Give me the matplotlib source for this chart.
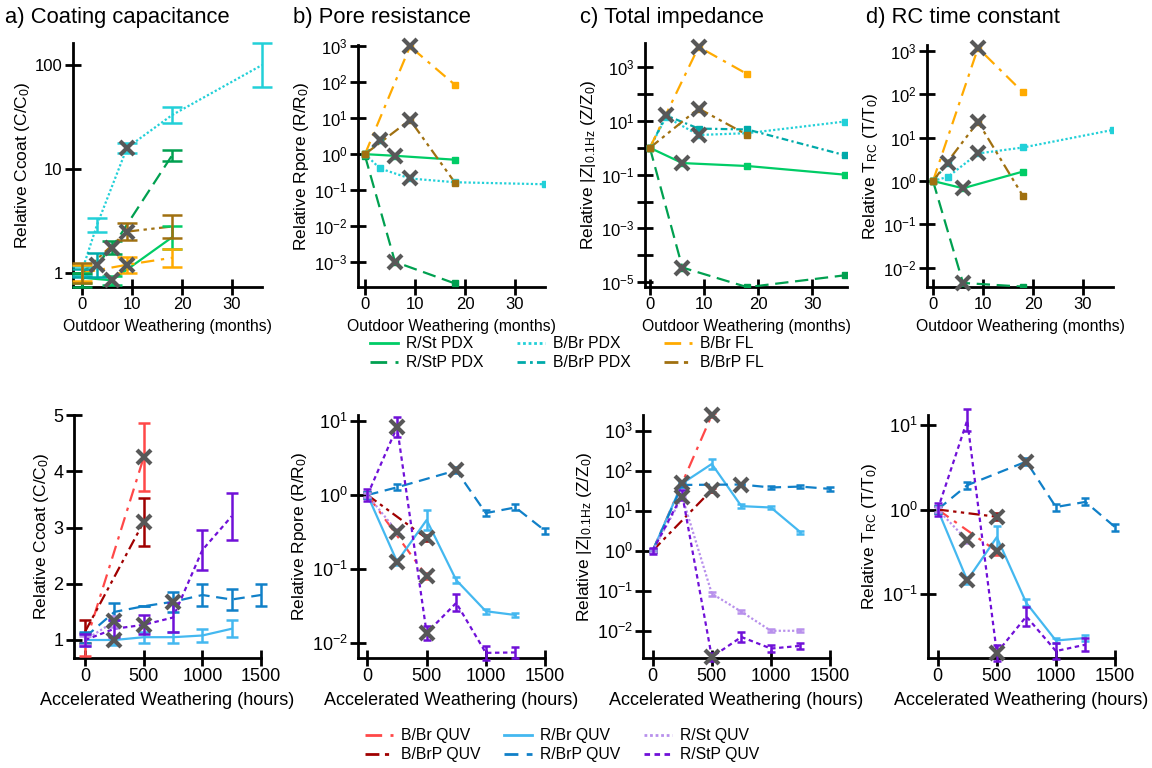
import numpy as np
import matplotlib
matplotlib.use("Agg")
import matplotlib.pyplot as plt
from matplotlib.ticker import FixedLocator, FuncFormatter, NullLocator
from matplotlib.lines import Line2D

plt.rcParams['font.family'] = ['Liberation Sans', 'DejaVu Sans']
plt.rcParams['mathtext.fontset'] = 'custom'
plt.rcParams['mathtext.rm'] = 'Liberation Sans'
plt.rcParams['mathtext.it'] = 'Liberation Sans:italic'
plt.rcParams['mathtext.default'] = 'regular'

nan = np.nan

# ---------------- dados: intemperismo externo (meses) ----------------
meses = [0, 3, 6, 9, 18, 36]
nomes_ext = ["R/St PDX", "R/StP PDX", "B/Br PDX", "B/BrP PDX", "B/Br FL", "B/BrP FL"]
cores_ext = ["#00cc66", "#00a050", "#22d0d8", "#00aaaa", "#ffaa00", "#a07010"]
tracos_ext = [None, (6, 3), (1, 1), (3, 1.5, 1, 1.5), (6, 3, 1.5, 3), (5, 2, 1.5, 2, 1.5, 2)]
marca_ext = [6, 6, 9, 3, 9, 9]  # mes marcado com X

ccoat_ext = [
    [0.9, nan, 0.85, nan, 2.2, nan],
    [0.85, nan, 1.75, nan, 13.5, nan],
    [1.05, 2.9, nan, 16, 33, 100],
    [1.0, 1.2, nan, nan, nan, nan],
    [1.0, nan, nan, 1.2, 1.4, nan],
    [1.0, nan, nan, 2.5, 2.8, nan],
]
erro_ccoat_ext = [
    [1.12, nan, 1.1, nan, 1.3, nan],
    [1.15, nan, 1.15, nan, 1.13, nan],
    [1.12, 1.17, nan, 1.12, 1.2, 1.64],
    [1.1, 1.3, nan, nan, nan, nan],
    [1.2, nan, nan, 1.2, 1.22, nan],
    [1.25, nan, nan, 1.2, 1.28, nan],
]
rpore_ext = [
    [1.0, nan, 0.9, nan, 0.7, nan],
    [0.9, nan, 0.001, nan, 0.00025, nan],
    [1.0, 0.4, nan, 0.21, 0.165, 0.145],
    [1.0, 2.5, nan, nan, nan, nan],
    [1.0, nan, nan, 1000, 85, nan],
    [1.0, nan, nan, 9, 0.16, nan],
]
z_ext = [
    [1.0, nan, 0.27, nan, 0.21, 0.1],
    [1.0, nan, 3.5e-5, nan, 6.5e-6, 1.8e-5],
    [1.0, 14, nan, 3.0, 3.5, 9.5],
    [1.0, 16, nan, 5.2, 4.8, 0.53],
    [1.0, nan, nan, 5700, 550, nan],
    [1.0, nan, nan, 29, 3.0, nan],
]
trc_ext = [
    [1.0, nan, 0.68, nan, 1.65, nan],
    [1.0, nan, 0.0045, nan, 0.0037, nan],
    [1.0, 1.25, nan, 4.3, 5.9, 15],
    [1.0, 2.6, nan, nan, nan, nan],
    [1.0, nan, nan, 1150, 110, nan],
    [1.0, nan, nan, 23, 0.45, nan],
]

# ---------------- dados: intemperismo acelerado (horas) ----------------
horas = [0, 250, 500, 750, 1000, 1250, 1500]
nomes_uv = ["B/Br QUV", "B/BrP QUV", "R/Br QUV", "R/BrP QUV", "R/St QUV", "R/StP QUV"]
cores_uv = ["#ff4848", "#a00000", "#44b8f0", "#1080c8", "#b890ec", "#7010d8"]
tracos_uv = [(6, 3, 1.5, 3), (5, 2, 1.5, 2, 1.5, 2), None, (5, 3), (1, 1), (2, 1.6)]
marca_uv = [500, 500, 250, 750, 250, 500]

ccoat_uv = [
    [0.92, nan, 4.25, nan, nan, nan, nan],
    [1.15, nan, 3.1, nan, nan, nan, nan],
    [1.0, 1.0, 1.05, 1.05, 1.08, 1.2, nan],
    [1.05, 1.5, 1.6, 1.68, 1.8, 1.72, 1.8],
    [1.0, 1.33, nan, nan, nan, nan, nan],
    [1.0, 1.2, 1.27, 1.4, 2.6, 3.2, nan],
]
erro_ccoat_uv = [
    [0.2, nan, 0.6, nan, nan, nan, nan],
    [0.2, nan, 0.42, nan, nan, nan, nan],
    [0.1, 0.08, 0.1, 0.1, 0.12, 0.15, nan],
    [0.1, 0.15, 0.0, 0.18, 0.2, 0.18, 0.2],
    [0.08, 0.1, nan, nan, nan, nan, nan],
    [0.1, 0.15, 0.17, 0.25, 0.35, 0.42, nan],
]
rpore_uv = [
    [1.0, nan, 0.08, nan, nan, nan, nan],
    [1.0, nan, 0.26, nan, nan, nan, nan],
    [1.0, 0.126, 0.46, 0.071, 0.027, 0.024, nan],
    [1.0, 1.27, nan, 2.15, 0.57, 0.68, 0.33],
    [1.0, 0.32, nan, nan, nan, nan, nan],
    [1.0, 8.3, 0.0137, 0.035, 0.0074, 0.0075, nan],
]
z_uv = [
    [1.0, nan, 2450, nan, nan, nan, nan],
    [1.0, nan, 33, nan, nan, nan, nan],
    [1.0, 48, 147, 13, 12, 2.9, nan],
    [1.0, 44, nan, 45, 38, 40, 35],
    [1.0, 22, 0.085, 0.03, 0.01, 0.01, nan],
    [1.0, 25, 0.0022, 0.007, 0.0036, 0.0042, nan],
]
trc_uv = [
    [1.0, nan, 0.32, nan, nan, nan, nan],
    [1.0, nan, 0.82, nan, nan, nan, nan],
    [1.0, 0.145, 0.47, 0.078, 0.028, 0.03, nan],
    [1.0, 1.94, nan, 3.7, 1.07, 1.23, 0.62],
    [1.0, 0.43, nan, nan, nan, nan, nan],
    [1.0, 11.4, 0.02, 0.054, 0.021, 0.025, nan],
]
erro_log_uv = [
    [1.1, nan, 1.1, nan, nan, nan, nan],
    [1.1, nan, 1.1, nan, nan, nan, nan],
    [1.1, 1.1, 1.35, 1.1, 1.08, 1.08, nan],
    [1.1, 1.1, nan, 1.1, 1.1, 1.1, 1.1],
    [1.08, 1.08, 1.12, 1.1, 1.1, 1.1, nan],
    [1.2, 1.35, 1.25, 1.3, 1.25, 1.2, nan],
]
marca_extra_rpore = {"R/StP QUV": 250}

# ---------------- figura ----------------
W, H = 1152, 768
fig = plt.figure(figsize=(W / 100, H / 100), dpi=100)
CINZA = "#585858"


def eixo_px(l, r, t, b, fs):
    ax = fig.add_axes([l / W, 1 - b / H, (r - l) / W, (b - t) / H])
    ax.spines['top'].set_visible(False)
    ax.spines['right'].set_visible(False)
    ax.spines['left'].set_linewidth(2)
    ax.spines['bottom'].set_linewidth(2)
    ax.tick_params(direction='inout', length=11, width=2, labelsize=fs, pad=2)
    ax.tick_params(which='minor', length=0)
    return ax


def eixo_log(ax, exps, rotulados=None):
    ax.set_yscale('log')
    ax.yaxis.set_major_locator(FixedLocator([10.0 ** e for e in exps]))
    ax.yaxis.set_minor_locator(NullLocator())
    rot = exps if rotulados is None else rotulados

    def fmt(v, p):
        e = int(round(np.log10(v)))
        return r'$10^{%d}$' % e if e in rot else ''
    ax.yaxis.set_major_formatter(FuncFormatter(fmt))


def serie(ax, x, y, cor, traco, erro=None, log=True, capsize=3, marcador='s', ms=3.5):
    x = np.array(x, float)
    y = np.array(y, float)
    ok = ~np.isnan(y)
    ls = '-' if traco is None else (0, traco)
    ax.plot(x[ok], y[ok], color=cor, lw=1.6, linestyle=ls, zorder=3)
    if erro is not None:
        e = np.array(erro, float)[ok]
        if log:
            lo = y[ok] - y[ok] / e
            hi = y[ok] * e - y[ok]
        else:
            lo = hi = e
        ax.errorbar(x[ok], y[ok], yerr=[lo, hi], fmt='none', ecolor=cor,
                    elinewidth=1.8, capsize=capsize, capthick=1.8, zorder=4, clip_on=False)
    elif marcador:
        ax.plot(x[ok], y[ok], marcador, color=cor, ms=ms, zorder=4)


def marca_x(ax, x, y):
    ax.plot([x], [y], 'x', color=CINZA, ms=10.5, mew=3, zorder=10, clip_on=False)


# linha superior
posic_sup = [(73, 262, 43, 287), (358, 545, 45, 287), (645, 847, 43, 287), (927, 1113, 45, 287)]
xlims_sup = [(-1.8, 36), (-1.4, 36), (-0.9, 36.4), (-1.2, 36)]
dados_sup = [ccoat_ext, rpore_ext, z_ext, trc_ext]
titulos = ["a) Coating capacitance", "b) Pore resistance", "c) Total impedance", "d) RC time constant"]
tit_x = [5, 293, 580, 866]
ylab = ["Relative Ccoat (C/C$_0$)", "Relative Rpore (R/R$_0$)",
        r"Relative |Z|$_{0.1Hz}$ (Z/Z$_0$)", "Relative T$_{RC}$ (T/T$_0$)"]

for k in range(4):
    ax = eixo_px(*posic_sup[k], fs=12)
    ax.set_xlim(*xlims_sup[k])
    ax.set_xticks([0, 10, 20, 30])
    ax.set_xlabel("Outdoor Weathering (months)", fontsize=11.3, labelpad=5)
    ax.set_ylabel(ylab[k], fontsize=12.5, labelpad=2)
    if k == 0:
        ax.set_yscale('log')
        ax.set_ylim(0.733, 163)
        ax.yaxis.set_major_locator(FixedLocator([1, 10, 100]))
        ax.yaxis.set_minor_locator(NullLocator())
        ax.yaxis.set_major_formatter(FuncFormatter(lambda v, p: '%d' % v))
    elif k == 1:
        eixo_log(ax, range(-3, 4))
        ax.set_ylim(10 ** -3.7, 10 ** 3.04)
    elif k == 2:
        eixo_log(ax, range(-5, 4), [-5, -3, -1, 1, 3])
        ax.set_ylim(10 ** -5.18, 10 ** 3.9)
    else:
        eixo_log(ax, range(-2, 4))
        ax.set_ylim(10 ** -2.44, 10 ** 3.13)
    for i in range(6):
        err = erro_ccoat_ext[i] if k == 0 else None
        serie(ax, meses, dados_sup[k][i], cores_ext[i], tracos_ext[i], erro=err,
              capsize=7, marcador='s', ms=4)
        j = meses.index(marca_ext[i])
        marca_x(ax, meses[j], dados_sup[k][i][j])
    fig.text(tit_x[k] / W, 1 - 18 / H, titulos[k], fontsize=15.8, ha='left', va='center')

# linha inferior
posic_inf = [(74, 261, 415, 658), (358, 545, 415, 658), (643, 830, 415, 658), (928, 1115, 415, 658)]
xlims_inf = [(-95, 1500), (-80, 1500), (-82, 1500), (-82, 1500)]
dados_inf = [ccoat_uv, rpore_uv, z_uv, trc_uv]

for k in range(4):
    ax = eixo_px(*posic_inf[k], fs=13)
    ax.set_xlim(*xlims_inf[k])
    ax.set_xticks([0, 500, 1000, 1500])
    ax.set_xlabel("Accelerated Weathering (hours)", fontsize=13, labelpad=5)
    ax.set_ylabel(ylab[k], fontsize=12.5, labelpad=2)
    if k == 0:
        ax.set_ylim(0.68, 5)
        ax.set_yticks([1, 2, 3, 4, 5])
    elif k == 1:
        eixo_log(ax, range(-2, 2))
        ax.set_ylim(10 ** -2.2, 10 ** 1.08)
    elif k == 2:
        eixo_log(ax, range(-2, 4))
        ax.set_ylim(10 ** -2.68, 10 ** 3.39)
    else:
        eixo_log(ax, range(-1, 2))
        ax.set_ylim(10 ** -1.76, 10 ** 1.12)
    for i in range(6):
        if k == 0:
            serie(ax, horas, dados_inf[k][i], cores_uv[i], tracos_uv[i],
                  erro=erro_ccoat_uv[i], log=False, capsize=4)
        else:
            serie(ax, horas, dados_inf[k][i], cores_uv[i], tracos_uv[i],
                  erro=erro_log_uv[i], log=True, capsize=3)
        j = horas.index(marca_uv[i])
        marca_x(ax, horas[j], dados_inf[k][i][j])
        if k == 1 and nomes_uv[i] in marca_extra_rpore:
            j = horas.index(marca_extra_rpore[nomes_uv[i]])
            marca_x(ax, horas[j], dados_inf[k][i][j])


# legendas
def alcas(cores, tracos):
    out = []
    for c, t in zip(cores, tracos):
        ls = '-' if t is None else (0, t)
        out.append(Line2D([], [], color=c, lw=2, linestyle=ls))
    return out


fig.legend(alcas(cores_ext, tracos_ext), nomes_ext, ncol=3, loc='upper center',
           bbox_to_anchor=(0.492, 1 - 322 / H), frameon=False, fontsize=11.3,
           handlelength=1.8, columnspacing=2.1, handletextpad=0.5, labelspacing=0.25)
fig.legend(alcas(cores_uv, tracos_uv), nomes_uv, ncol=3, loc='upper center',
           bbox_to_anchor=(0.488, 1 - 714 / H), frameon=False, fontsize=11.3,
           handlelength=1.8, columnspacing=1.5, handletextpad=0.5, labelspacing=0.25)

fig.savefig("out.png", dpi=100)
